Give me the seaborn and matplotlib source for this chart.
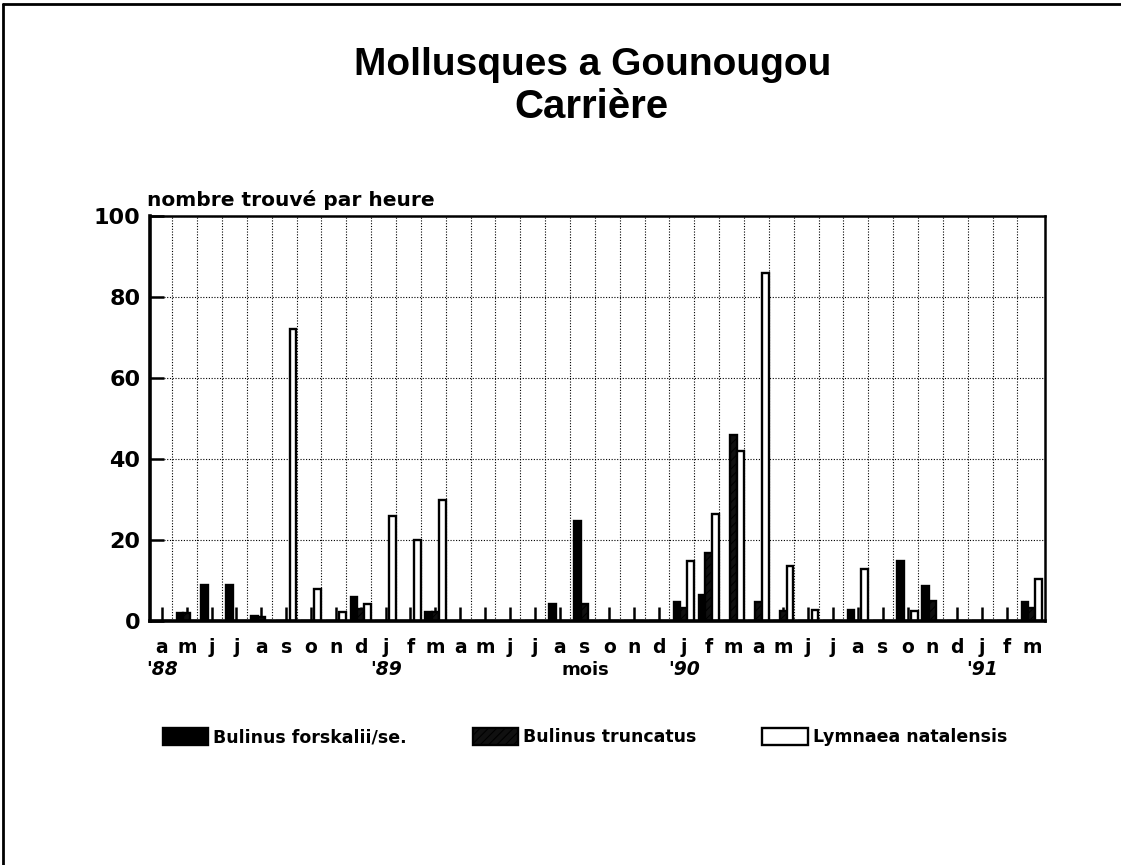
import numpy as np
import pandas as pd
import matplotlib
matplotlib.use("Agg")
import matplotlib.pyplot as plt
from matplotlib.lines import Line2D
import seaborn as sns

# ---- data (Apr 1988 - Mar 1991) ----
month_labels = ["a", "m", "j", "j", "a", "s", "o", "n", "d", "j", "f", "m",
                "a", "m", "j", "j", "a", "s", "o", "n", "d", "j", "f", "m",
                "a", "m", "j", "j", "a", "s", "o", "n", "d", "j", "f", "m"]
year_labels = ["'88", "'89", "'90", "'91"]
year_positions = [0, 9, 21, 33]

forskalii = [0, 2.0, 9.0, 9.0, 1.2, 0, 0, 0, 6.0, 0, 0, 2.2,
             0, 0, 0, 0, 4.3, 24.6, 0, 0, 0, 4.6, 6.5, 0,
             0, 0, 0, 0, 2.7, 0, 14.7, 8.6, 0, 0, 0, 4.6]
truncatus = [0, 2.0, 0, 0, 1.0, 0, 0, 0, 3.0, 0, 0, 2.2,
             0, 0, 0, 0, 0, 4.3, 0, 0, 0, 3.3, 16.8, 46.0,
             4.6, 2.5, 0, 0, 0, 0, 0, 4.9, 0, 0, 0, 3.1]
lymnaea = [0, 0, 0, 0, 0, 72.0, 8.0, 2.2, 4.3, 26.0, 20.0, 30.0,
           0, 0, 0, 0, 0, 0, 0, 0, 0, 14.7, 26.3, 42.0,
           86.0, 13.6, 2.7, 0, 12.9, 0, 2.5, 0, 0, 0, 0, 10.4]
series_names = ["Bulinus forskalii/se.", "Bulinus truncatus", "Lymnaea natalensis"]

n = len(month_labels)
df = pd.DataFrame({
    "mois": list(range(n)) * 3,
    "valeur": forskalii + truncatus + lymnaea,
    "espece": [series_names[0]] * n + [series_names[1]] * n + [series_names[2]] * n,
})

sns.set_theme(style="white")
plt.rcParams["font.family"] = ["DejaVu Sans"]
plt.rcParams["text.color"] = "black"
plt.rcParams["axes.labelcolor"] = "black"
plt.rcParams["xtick.color"] = "black"
plt.rcParams["ytick.color"] = "black"
plt.rcParams["hatch.color"] = "#5a5a5a"
plt.rcParams["hatch.linewidth"] = 0.8

BOLD = dict(family="DejaVu Sans", weight="bold")

W, H = 1121, 865
fig = plt.figure(figsize=(W / 100, H / 100), dpi=100)
ax = fig.add_axes([150 / W, 1 - 621 / H, (1045 - 150) / W, (621 - 216) / H])

palette = {series_names[0]: "#000000", series_names[1]: "#101010", series_names[2]: "#ffffff"}
sns.barplot(data=df, x="mois", y="valeur", hue="espece", hue_order=series_names,
            order=list(range(n)), palette=palette, width=0.82, dodge=True,
            edgecolor="black", linewidth=1.7, legend=False, ax=ax, saturation=1)

for bar in ax.containers[1]:
    bar.set_hatch("////")
    bar.set_edgecolor("black")

ax.set_xlim(-0.48, 35.53)
ax.set_ylim(0, 100)
ax.set_yticks([0, 20, 40, 60, 80, 100])
ax.set_yticklabels(["0", "20", "40", "60", "80", "100"], fontsize=16, **BOLD)
ax.set_xticks(range(n))
ax.set_xticklabels(month_labels, fontsize=13.5, **BOLD)
ax.set_xticks(np.arange(n - 1) + 0.42, minor=True)
ax.tick_params(axis="x", which="major", bottom=True, direction="in", length=10, width=1.8, pad=12)
ax.tick_params(axis="x", which="minor", bottom=False, length=0)
ax.tick_params(axis="y", which="major", left=True, direction="in", length=10, width=1.8, pad=7)
ax.set_xlabel("")
ax.set_ylabel("")

ax.grid(False)
ax.xaxis.grid(True, which="minor", linestyle=(0, (1, 1.5)), color="black", linewidth=0.8)
ax.yaxis.grid(True, which="major", linestyle=(0, (1, 1.5)), color="black", linewidth=0.8)
ax.set_axisbelow(True)

for side in ["left", "bottom"]:
    ax.spines[side].set_linewidth(2.6)
    ax.spines[side].set_color("black")
for side in ["top", "right"]:
    ax.spines[side].set_linewidth(1.8)
    ax.spines[side].set_color("black")

# year labels and axis title
trans = ax.get_xaxis_transform()
for pos, lab in zip(year_positions, year_labels):
    ax.text(pos, -0.12, lab, transform=trans, ha="center", va="center",
            fontsize=13.5, family="DejaVu Sans", weight="bold", style="italic")
ax.text(17.05, -0.12, "mois", transform=trans, ha="center", va="center",
        fontsize=13, **BOLD)

fig.text(593 / W, 1 - 65 / H, "Mollusques a Gounougou", ha="center", va="center",
         fontsize=28, family="Liberation Sans", weight="bold")
fig.text(591 / W, 1 - 107 / H, "Carrière", ha="center", va="center",
         fontsize=29, family="Liberation Sans", weight="bold")
fig.text(147 / W, 1 - 200 / H, "nombre trouvé par heure", ha="left", va="center",
         fontsize=14.5, **BOLD)

# legend
handles = [ax.containers[0][0], ax.containers[1][0], ax.containers[2][0]]
fig.legend(handles, series_names, loc="center", bbox_to_anchor=(585 / W, 1 - 737 / H),
           ncol=3, frameon=False, handlelength=2.6, handleheight=1.1,
           handletextpad=0.3, columnspacing=3.8,
           prop={"family": "DejaVu Sans", "weight": "bold", "size": 12.5})

# page border lines
fig.add_artist(Line2D([3 / W, 3 / W], [0, 1 - 4 / H], transform=fig.transFigure, color="black", linewidth=2))
fig.add_artist(Line2D([3 / W, 1], [1 - 4 / H, 1 - 4 / H], transform=fig.transFigure, color="black", linewidth=2))

fig.savefig("out.png", dpi=100)
